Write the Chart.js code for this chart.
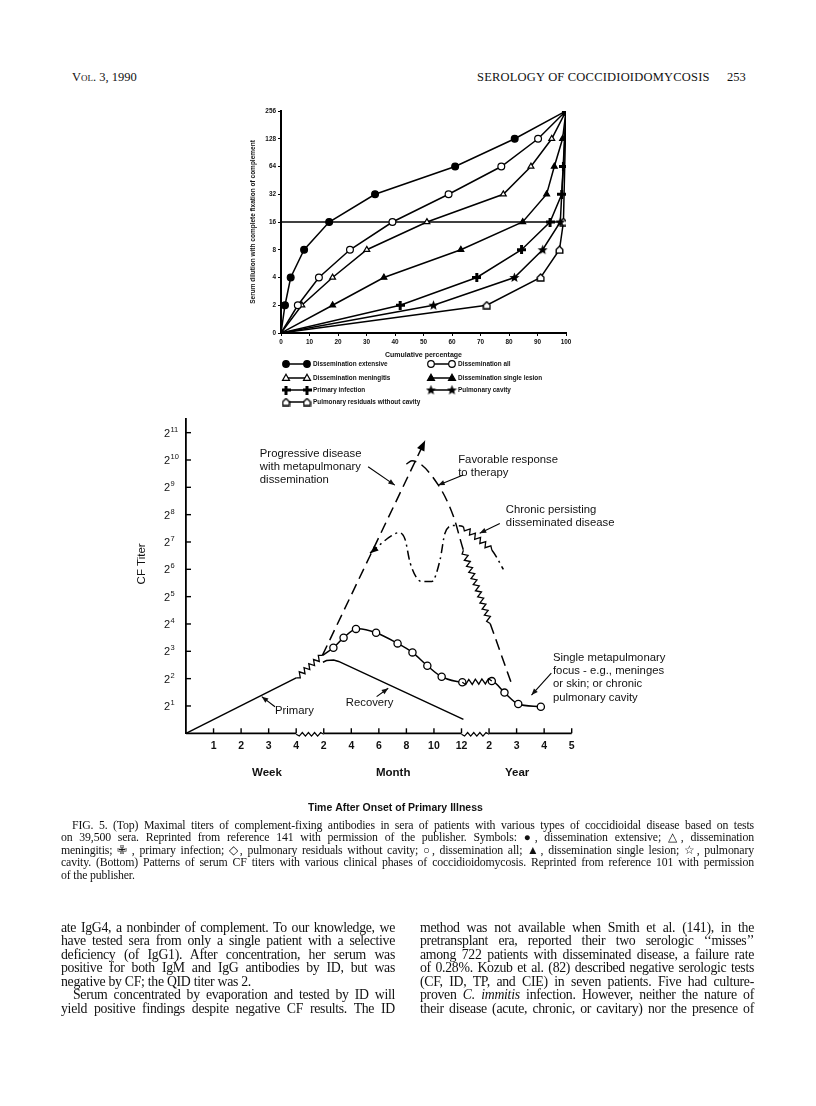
<!DOCTYPE html>
<html>
<head>
<meta charset="utf-8">
<script src="https://cdn.jsdelivr.net/npm/chart.js@4.4.1/dist/chart.umd.min.js"></script>
<style>
body { margin: 0; background: #fff; }
#page { position: relative; width: 816px; height: 1106px; overflow: hidden; font-family: 'Liberation Serif', serif; color: #111; }
#page canvas { position: absolute; left: 0; top: 0; }
.hdr { position: absolute; top: 70px; font-size: 12.5px; line-height: 14px; }
.cap { position: absolute; left: 61px; top: 818.5px; width: 693px; font-size: 11.8px; line-height: 12.5px; letter-spacing: -0.15px; }
.col { position: absolute; top: 920.5px; width: 334px; font-size: 13.8px; line-height: 13.6px; letter-spacing: -0.3px; }
.j { text-align: justify; text-align-last: justify; white-space: nowrap; }
.ind { text-indent: 12px; }
</style>
</head>
<body>
<div id="page">
  <div class="hdr" style="left:72px;font-variant:small-caps;">Vol. 3, 1990</div>
  <div class="hdr" style="left:477px;letter-spacing:0.2px;">SEROLOGY OF COCCIDIOIDOMYCOSIS</div>
  <div class="hdr" style="left:727px;">253</div>

  <canvas id="topChart" width="816" height="1106"></canvas>
  <canvas id="bottomChart" width="816" height="1106"></canvas>

  <div class="cap">
    <div class="j" style="padding-left:11px;">FIG. 5. (Top) Maximal titers of complement-fixing antibodies in sera of patients with various types of coccidioidal disease based on tests</div>
    <div class="j">on 39,500 sera. Reprinted from reference 141 with permission of the publisher. Symbols: ●, dissemination extensive; △, dissemination</div>
    <div class="j">meningitis; ✙ , primary infection; ◇, pulmonary residuals without cavity; ○, dissemination all; ▲, dissemination single lesion; ☆, pulmonary</div>
    <div class="j">cavity. (Bottom) Patterns of serum CF titers with various clinical phases of coccidioidomycosis. Reprinted from reference 101 with permission</div>
    <div>of the publisher.</div>
  </div>

  <div class="col" style="left:61px;">
    <div class="j">ate IgG4, a nonbinder of complement. To our knowledge, we</div>
    <div class="j">have tested sera from only a single patient with a selective</div>
    <div class="j">deficiency (of IgG1). After concentration, her serum was</div>
    <div class="j">positive for both IgM and IgG antibodies by ID, but was</div>
    <div>negative by CF; the QID titer was 2.</div>
    <div class="j ind">Serum concentrated by evaporation and tested by ID will</div>
    <div class="j">yield positive findings despite negative CF results. The ID</div>
  </div>
  <div class="col" style="left:420px;">
    <div class="j">method was not available when Smith et al. (141), in the</div>
    <div class="j">pretransplant era, reported their two serologic ‘‘misses’’</div>
    <div class="j">among 722 patients with disseminated disease, a failure rate</div>
    <div class="j">of 0.28%. Kozub et al. (82) described negative serologic tests</div>
    <div class="j">(CF, ID, TP, and CIE) in seven patients. Five had culture-</div>
    <div class="j">proven <i>C. immitis</i> infection. However, neither the nature of</div>
    <div class="j">their disease (acute, chronic, or cavitary) nor the presence of</div>
  </div>
</div>

<script>
// ---- Graphique du haut : pourcentage cumulé par titre ----
const topLevelLabels = ['0', '2', '4', '8', '16', '32', '64', '128', '256'];
// pourcentage cumulé pour chaque niveau de titre (null = pas de point)
const extensivePct   = [0, 1.4, 3.4, 8.1, 16.9, 33.0, 61.1, 82.0, 100];
const allPct         = [0, 5.9, 13.3, 24.2, 39.1, 58.8, 77.3, 90.2, 100];
const meningitisPct  = [0, 7.3, 18.1, 30.1, 51.2, 78.0, 87.7, 95.0, 100];
const singleLesionPct = [0, 18.1, 36.1, 63.1, 84.8, 93.2, 95.9, 98.8, 100];
const primaryPct     = [0, 41.8, 68.7, 84.4, 94.4, 98.5, 99.1, null, 100];
const cavityPct      = [0, 53.5, 81.9, 91.8, 98.0, null, null, null, 100];
const residualsPct   = [0, 72.2, 91.1, 97.7, 99.1, null, null, null, 100];
const thresholdLevel = 4; // ligne horizontale à 16

// ---- Graphique du bas : titres CF (exposant de 2) ----
const bottomXTicks = ['', '1', '2', '3', '4', '2', '4', '6', '8', '10', '12', '2', '3', '4', '5'];
const bottomYExp = [1, 2, 3, 4, 5, 6, 7, 8, 9, 10, 11];
const periodLabels = ['Week', 'Month', 'Year'];
const periodCenters = [2.94, 7.52, 12.02];
const xBreaks = [[4, 5], [10, 11]];

const primaryX = [0, 4.0, 4.95];
const primaryY = [0, 2.03, 2.85];
const recoveryX = [4.97, 5.1, 5.36, 5.54, 10.07];
const recoveryY = [2.6, 2.66, 2.68, 2.63, 0.51];
const progX = [4.95, 8.68];
const progY = [2.85, 10.71];
const favX = [8.0, 8.2, 9.16, 9.71, 10.07, 11.04, 11.82];
const favY = [9.85, 9.97, 9.08, 7.93, 6.7, 4.02, 1.8];
const chronX = [6.68, 7.45, 7.72, 7.95, 8.14, 8.56, 8.92, 9.22, 9.4, 9.71, 10.07, 11.1, 11.52];
const chronY = [6.59, 7.22, 7.34, 7.1, 6.22, 5.55, 5.55, 6.34, 7.32, 7.6, 7.56, 6.71, 6.0];
const focusX = [4.95, 5.35, 5.72, 6.17, 6.9, 7.68, 8.22, 8.76, 9.28, 10.03, 11.1, 11.56, 12.06, 12.88];
const focusY = [2.85, 3.13, 3.5, 3.82, 3.68, 3.29, 2.96, 2.47, 2.07, 1.87, 1.91, 1.49, 1.07, 0.97];

// annotations : texte et flèches (en unités des axes)
const noteLabels = [
  { x: 2.68, y: 10.21, lh: 13, lines: ['Progressive disease', 'with metapulmonary', 'dissemination'] },
  { x: 9.88, y: 10.0, lh: 13.3, lines: ['Favorable response', 'to therapy'] },
  { x: 11.61, y: 8.17, lh: 13.3, lines: ['Chronic persisting', 'disseminated disease'] },
  { x: 13.32, y: 2.77, lh: 13.3, lines: ['Single metapulmonary', 'focus - e.g., meninges', 'or skin; or chronic', 'pulmonary cavity'] },
  { x: 3.23, y: 0.83, lh: 13, lines: ['Primary'] },
  { x: 5.8, y: 1.1, lh: 13, lines: ['Recovery'] }
];
const noteArrows = [
  { from: [6.61, 9.75], to: [7.58, 9.08] },
  { from: [10.06, 9.45], to: [9.15, 9.08] },
  { from: [11.39, 7.68], to: [10.66, 7.32] },
  { from: [13.26, 2.2], to: [12.54, 1.4] },
  { from: [3.23, 0.97], to: [2.75, 1.34] },
  { from: [6.92, 1.34], to: [7.34, 1.65] }
];

// Marqueurs dessinés à la main
function makeMarker(size, draw) {
  const c = document.createElement('canvas');
  c.width = c.height = size;
  const g = c.getContext('2d');
  g.fillStyle = '#000';
  g.strokeStyle = '#000';
  draw(g, size);
  return c;
}
const crossImg = makeMarker(9, function(g) {
  g.fillRect(3, 0, 3, 9);
  g.fillRect(0, 3, 9, 3);
});
const starImg = makeMarker(11, function(g) {
  g.beginPath();
  for (let k = 0; k < 10; k++) {
    const r = k % 2 ? 2.3 : 5.3;
    const a = -Math.PI / 2 + k * Math.PI / 5;
    g.lineTo(5.5 + r * Math.cos(a), 5.8 + r * Math.sin(a));
  }
  g.closePath();
  g.fill();
});
const houseImg = makeMarker(9, function(g) {
  g.beginPath();
  g.moveTo(1.2, 8); g.lineTo(1.2, 4.2); g.lineTo(4.5, 1); g.lineTo(7.8, 4.2); g.lineTo(7.8, 8);
  g.closePath();
  g.fillStyle = '#fff'; g.fill();
  g.lineWidth = 1.4; g.stroke();
});

const topSeries = [
  { label: 'Dissemination extensive', xs: extensivePct, style: 'circle', fill: '#000' },
  { label: 'Dissemination all', xs: allPct, style: 'circle', fill: '#fff' },
  { label: 'Dissemination meningitis', xs: meningitisPct, style: 'triangle', fill: '#fff' },
  { label: 'Dissemination single lesion', xs: singleLesionPct, style: 'triangle', fill: '#000' },
  { label: 'Primary infection', xs: primaryPct, style: crossImg, fill: '#000' },
  { label: 'Pulmonary cavity', xs: cavityPct, style: starImg, fill: '#000' },
  { label: 'Pulmonary residuals without cavity', xs: residualsPct, style: houseImg, fill: '#fff' }
];
const legendRows = [[0, 1], [2, 3], [4, 5], [6]];

function drawMarker(ctx, s, x, y) {
  if (typeof s.style !== 'string') {
    ctx.drawImage(s.style, x - s.style.width / 2, y - s.style.height / 2);
    return;
  }
  ctx.beginPath();
  if (s.style === 'circle') {
    ctx.arc(x, y, 3.3, 0, Math.PI * 2);
  } else {
    ctx.moveTo(x, y - 3.8); ctx.lineTo(x + 3.5, y + 2.4); ctx.lineTo(x - 3.5, y + 2.4); ctx.closePath();
  }
  ctx.fillStyle = s.fill;
  ctx.fill();
  ctx.lineWidth = 1.2;
  ctx.strokeStyle = '#000';
  ctx.stroke();
}

const topFont = { family: 'Liberation Sans', weight: 'bold', size: 6.4 };

const topLegend = {
  id: 'topLegend',
  afterDraw(chart) {
    const { ctx, chartArea: a } = chart;
    const rowY = [31, 45, 57, 69];
    const colX = [5, 150];
    ctx.save();
    ctx.font = 'bold 6.4px "Liberation Sans"';
    ctx.textBaseline = 'middle';
    ctx.fillStyle = '#111';
    legendRows.forEach(function(row, r) {
      row.forEach(function(idx, c) {
        const s = topSeries[idx];
        const x0 = a.left + colX[c], y = a.bottom + rowY[r];
        ctx.strokeStyle = '#000';
        ctx.lineWidth = 1.5;
        ctx.beginPath(); ctx.moveTo(x0, y); ctx.lineTo(x0 + 21, y); ctx.stroke();
        drawMarker(ctx, s, x0, y);
        drawMarker(ctx, s, x0 + 21, y);
        ctx.fillStyle = '#111';
        ctx.fillText(s.label, x0 + 27, y);
      });
    });
    ctx.restore();
  }
};

const topDatasets = topSeries.map(function(s) {
  return {
    label: s.label,
    data: s.xs.map((x, i) => x === null ? null : { x: x, y: i }).filter(Boolean),
    borderColor: '#000',
    borderWidth: 1.5,
    pointStyle: s.style,
    pointRadius: ctx => ctx.raw && ctx.raw.y === 0 ? 0 : 3.4,
    pointBackgroundColor: s.fill,
    pointBorderColor: '#000',
    pointBorderWidth: 1.2,
    tension: 0
  };
});
topDatasets.push({
  label: 'seuil',
  data: [{ x: 0, y: thresholdLevel }, { x: 100, y: thresholdLevel }],
  borderColor: '#000',
  borderWidth: 1.6,
  pointRadius: 0
});

new Chart(document.getElementById('topChart'), {
  type: 'line',
  data: { datasets: topDatasets },
  options: {
    responsive: false,
    animation: false,
    events: [],
    layout: { padding: { left: 249, right: 250, top: 111, bottom: 1106 - 333 - 30 } },
    plugins: { legend: { display: false }, tooltip: { enabled: false } },
    scales: {
      x: {
        type: 'linear', min: 0, max: 100,
        afterFit: s => { s.height = 30; },
        ticks: { stepSize: 10, autoSkip: false, maxRotation: 0, font: topFont, color: '#111', padding: 2 },
        grid: { drawOnChartArea: false, tickLength: 3, color: '#000' },
        border: { display: true, width: 2, color: '#000' },
        title: { display: true, text: 'Cumulative percentage', color: '#111', font: { family: 'Liberation Sans', weight: 'bold', size: 7 }, padding: { top: 3 } }
      },
      y: {
        type: 'linear', min: 0, max: 8,
        afterFit: s => { s.width = 32; },
        ticks: { stepSize: 1, autoSkip: false, font: topFont, color: '#111', padding: 2, callback: v => topLevelLabels[v] },
        grid: { drawOnChartArea: false, tickLength: 3, color: '#000' },
        border: { display: true, width: 2, color: '#000' },
        title: { display: true, text: 'Serum dilution with complete fixation of complement', color: '#111', font: { family: 'Liberation Sans', weight: 'bold', size: 6.5 }, padding: 0 }
      }
    }
  },
  plugins: [topLegend]
});

// ---- Dessins du graphique du bas ----
function zigzag(ctx, x0, y0, x1, y1, amp, step) {
  const dx = x1 - x0, dy = y1 - y0, len = Math.hypot(dx, dy);
  const ux = dx / len, uy = dy / len, nx = -uy, ny = ux;
  const n = Math.max(2, Math.round(len / step));
  ctx.beginPath();
  ctx.moveTo(x0, y0);
  for (let i = 1; i < n; i++) {
    const t = i / n * len, s = i % 2 ? amp : -amp;
    ctx.lineTo(x0 + ux * t + nx * s, y0 + uy * t + ny * s);
  }
  ctx.lineTo(x1, y1);
  ctx.stroke();
}

function arrowHead(ctx, fx, fy, tx, ty, size) {
  const ang = Math.atan2(ty - fy, tx - fx);
  ctx.beginPath();
  ctx.moveTo(tx, ty);
  ctx.lineTo(tx - size * Math.cos(ang - 0.38), ty - size * Math.sin(ang - 0.38));
  ctx.lineTo(tx - size * Math.cos(ang + 0.38), ty - size * Math.sin(ang + 0.38));
  ctx.closePath();
  ctx.fill();
}

const bottomDecor = {
  id: 'bottomDecor',
  afterDatasetsDraw(chart) {
    const { ctx, chartArea: a, scales: { x, y } } = chart;
    const px = v => x.getPixelForValue(v);
    const py = v => y.getPixelForValue(v);
    ctx.save();
    ctx.strokeStyle = '#000';
    ctx.fillStyle = '#000';
    ctx.setLineDash([]);

    // segments en zigzag et pointes de flèche des courbes
    ctx.lineWidth = 1.3;
    chart.data.datasets.forEach(function(ds, i) {
      const pts = chart.getDatasetMeta(i).data;
      (ds.wavy || []).forEach(function(k) {
        zigzag(ctx, pts[k].x, pts[k].y, pts[k + 1].x, pts[k + 1].y, 2.6, 3.2);
      });
      const n = pts.length;
      if (ds.arrowEnd) arrowHead(ctx, pts[n - 2].x, pts[n - 2].y, pts[n - 1].x, pts[n - 1].y, 11);
      if (ds.arrowStart) arrowHead(ctx, pts[1].x, pts[1].y, pts[0].x, pts[0].y, 9);
    });

    // axe des x avec coupures
    ctx.lineWidth = 1.8;
    const y0 = py(0);
    let start = 0;
    xBreaks.forEach(function(b) {
      ctx.beginPath(); ctx.moveTo(px(start), y0); ctx.lineTo(px(b[0]), y0); ctx.stroke();
      ctx.lineWidth = 1.2;
      zigzag(ctx, px(b[0]), y0 + 1, px(b[1]), y0 + 1, 1.8, 3);
      ctx.lineWidth = 1.8;
      start = b[1];
    });
    ctx.beginPath(); ctx.moveTo(px(start), y0); ctx.lineTo(px(x.max), y0); ctx.stroke();

    // graduations vers l'intérieur
    ctx.lineWidth = 1.4;
    for (let v = 1; v <= x.max; v++) {
      ctx.beginPath(); ctx.moveTo(px(v), y0); ctx.lineTo(px(v), y0 - 5); ctx.stroke();
    }
    bottomYExp.forEach(function(e) {
      ctx.beginPath(); ctx.moveTo(a.left, py(e)); ctx.lineTo(a.left + 5, py(e)); ctx.stroke();
    });

    // étiquettes de l'axe y : 2 puissance n
    ctx.fillStyle = '#111';
    ctx.textBaseline = 'middle';
    ctx.textAlign = 'left';
    bottomYExp.forEach(function(e) {
      ctx.font = '11px "Liberation Sans"';
      ctx.fillText('2', a.left - 22, py(e) + 1);
      ctx.font = '7.5px "Liberation Sans"';
      ctx.fillText(String(e), a.left - 15.5, py(e) - 3);
    });

    // titre de l'axe y
    ctx.save();
    ctx.translate(a.left - 44, py(6.2));
    ctx.rotate(-Math.PI / 2);
    ctx.textAlign = 'center';
    ctx.font = '11.5px "Liberation Sans"';
    ctx.fillText('CF Titer', 0, 0);
    ctx.restore();

    // périodes et titre de l'axe x
    ctx.textAlign = 'center';
    ctx.font = 'bold 11.5px "Liberation Sans"';
    periodLabels.forEach(function(t, i) { ctx.fillText(t, px(periodCenters[i]), y0 + 40); });
    ctx.font = 'bold 10.5px "Liberation Sans"';
    ctx.fillText('Time After Onset of Primary Illness', px(7.6), y0 + 75);

    // annotations
    ctx.textAlign = 'left';
    ctx.font = '11.3px "Liberation Sans"';
    noteLabels.forEach(function(n) {
      n.lines.forEach(function(t, k) { ctx.fillText(t, px(n.x), py(n.y) + k * n.lh); });
    });
    ctx.lineWidth = 1.1;
    noteArrows.forEach(function(ar) {
      const fx = px(ar.from[0]), fy = py(ar.from[1]), tx = px(ar.to[0]), ty = py(ar.to[1]);
      ctx.beginPath(); ctx.moveTo(fx, fy); ctx.lineTo(tx, ty); ctx.stroke();
      arrowHead(ctx, fx, fy, tx, ty, 7);
    });
    ctx.restore();
  }
};

const bottomCurves = [
  { xs: primaryX, ys: primaryY, wavy: [1] },
  { xs: recoveryX, ys: recoveryY },
  { xs: progX, ys: progY, dash: [11, 6], arrowEnd: true },
  { xs: favX, ys: favY, dash: [11, 6], wavy: [4], mono: true },
  { xs: chronX, ys: chronY, dash: [9, 4, 2, 4], wavy: [10], mono: true, arrowStart: true },
  { xs: focusX, ys: focusY, wavy: [9], circles: true }
];

const bottomDatasets = bottomCurves.map(function(c) {
  const wavy = c.wavy || [];
  return {
    data: c.xs.map((x, i) => ({ x: x, y: c.ys[i] })),
    borderColor: '#000',
    borderWidth: 1.5,
    borderDash: c.dash || [],
    cubicInterpolationMode: c.mono ? 'monotone' : 'default',
    tension: c.circles ? 0.3 : 0,
    pointRadius: c.circles ? (ctx => ctx.dataIndex === 0 ? 0 : 3.6) : 0,
    pointBackgroundColor: '#fff',
    pointBorderColor: '#000',
    pointBorderWidth: 1.3,
    segment: { borderColor: s => wavy.includes(s.p0DataIndex) ? 'rgba(0,0,0,0)' : '#000' },
    wavy: wavy,
    arrowEnd: c.arrowEnd,
    arrowStart: c.arrowStart
  };
});

new Chart(document.getElementById('bottomChart'), {
  type: 'line',
  data: { datasets: bottomDatasets },
  options: {
    responsive: false,
    animation: false,
    events: [],
    clip: false,
    layout: { padding: { left: 186, right: 816 - 571.7, top: 419, bottom: 1106 - 733.3 - 20 } },
    plugins: { legend: { display: false }, tooltip: { enabled: false } },
    scales: {
      x: {
        type: 'linear', min: 0, max: 14,
        afterFit: s => { s.height = 20; },
        ticks: { stepSize: 1, autoSkip: false, maxRotation: 0, padding: 7, color: '#111',
          font: { family: 'Liberation Sans', weight: 'bold', size: 10.5 },
          callback: v => bottomXTicks[v] },
        grid: { display: false, drawTicks: false },
        border: { display: false }
      },
      y: {
        type: 'linear', min: 0, max: 11.5,
        afterFit: s => { s.width = 0; },
        ticks: { display: false },
        grid: { display: false, drawTicks: false },
        border: { display: true, width: 1.8, color: '#000' }
      }
    }
  },
  plugins: [bottomDecor]
});
</script>
</body>
</html>
